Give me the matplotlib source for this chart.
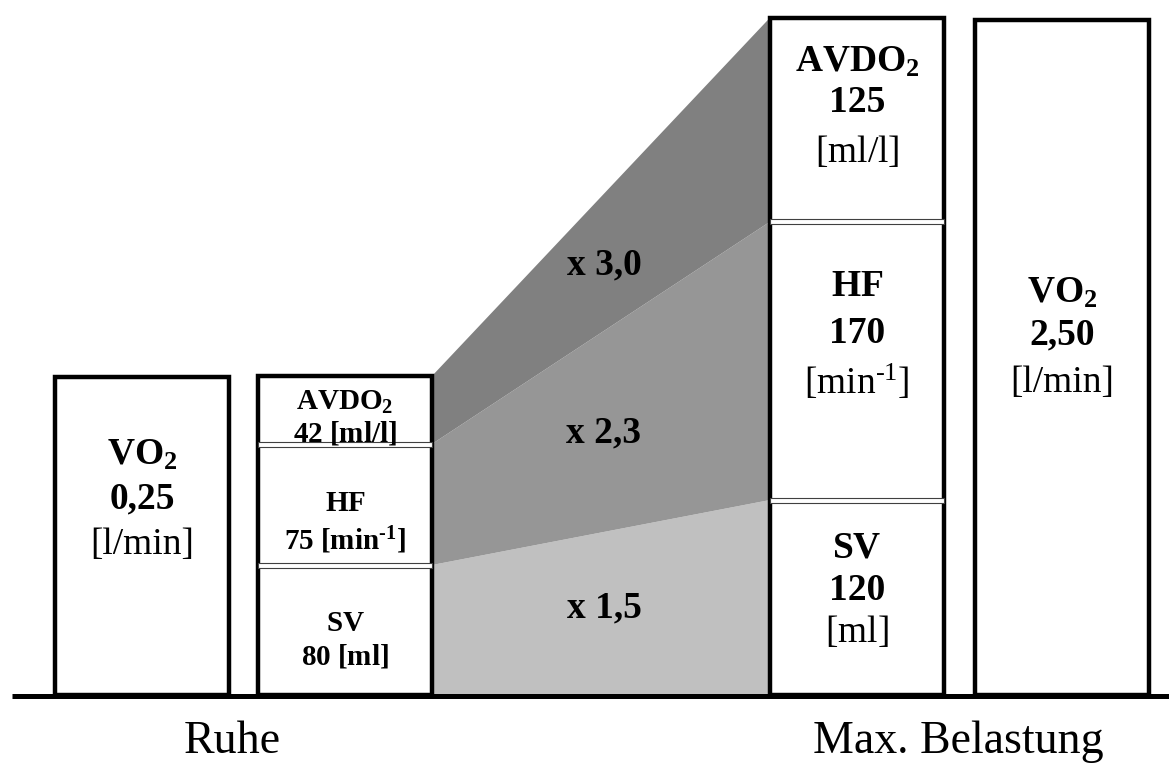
import matplotlib
matplotlib.use("Agg")
import matplotlib.pyplot as plt
from matplotlib.patches import Rectangle, Polygon

plt.rcParams['font.family'] = ['Liberation Serif', 'DejaVu Serif']
plt.rcParams['mathtext.fontset'] = 'custom'
plt.rcParams['mathtext.rm'] = 'Liberation Serif'
plt.rcParams['mathtext.bf'] = 'Liberation Serif:bold'
plt.rcParams['mathtext.it'] = 'Liberation Serif:italic'

# ---- data ----
components = ["SV", "HF", "AVDO2"]
rest_values = ["80 [ml]", "75 [min-1]", "42 [ml/l]"]
max_values = ["120", "170", "125"]
max_units = ["[ml]", "[min-1]", "[ml/l]"]
factors = [1.5, 2.3, 3.0]
factor_labels = ["x 1,5", "x 2,3", "x 3,0"]
vo2_rest = "0,25"
vo2_max = "2,50"
vo2_unit = "[l/min]"
group_labels = ["Ruhe", "Max. Belastung"]

# ---- layout (pixel-like units, y up) ----
W, H = 1169, 765
base = 70
rest_seg = [130, 121, 68]               # drawn heights of rest segments
max_seg = [h * f for h, f in zip(rest_seg, factors)]
x_vo2r, x_rest, x_max, x_vo2m = 55, 258, 770, 975
bw = 174
vo2r_top = 388
vo2m_top = 745
shades = ["#c0c0c0", "#969696", "#808080"]

fig = plt.figure(figsize=(W / 100, H / 100), dpi=100)
ax = fig.add_axes([0, 0, 1, 1])
ax.set_xlim(0, W)
ax.set_ylim(0, H)
ax.axis('off')

lw_box = 3.2


def fmt(s, bold):
    """Convert unit text with '-1' exponent / '2' subscript to mathtext."""
    s = s.replace(" ", r"\ ")
    s = s.replace("min-1", r"min^{\text{-}1}")
    s = s.replace("AVDO2", "AVDO_2").replace("VO2", "VO_2")
    return (r"$\mathbf{" + s + "}$") if bold else (r"$\mathrm{" + s + "}$")


# connecting shaded polygons
r_bounds = [base]
for h in rest_seg:
    r_bounds.append(r_bounds[-1] + h)
m_bounds = [base]
for h in max_seg:
    m_bounds.append(m_bounds[-1] + h)
xr = x_rest + bw
for i in range(3):
    poly = Polygon([(xr, r_bounds[i]), (x_max, m_bounds[i]),
                    (x_max, m_bounds[i + 1]), (xr, r_bounds[i + 1])],
                   closed=True, facecolor=shades[i], edgecolor='none', zorder=1)
    ax.add_patch(poly)

# boxes
for x0, top in [(x_vo2r, vo2r_top), (x_vo2m, vo2m_top),
                (x_rest, r_bounds[-1]), (x_max, m_bounds[-1])]:
    ax.add_patch(Rectangle((x0, base), bw, top - base, facecolor='white',
                           edgecolor='black', lw=lw_box, zorder=2))

# dividers (double lines)
for x0, bounds in [(x_rest, r_bounds), (x_max, m_bounds)]:
    for yb in bounds[1:-1]:
        ax.add_patch(Rectangle((x0, yb - 2.5), bw, 5, facecolor='white',
                               edgecolor='#404040', lw=0.8, zorder=3))

# baseline
ax.plot([12, W], [base - 0.5, base - 0.5], color='black', lw=3.6,
        solid_capstyle='butt', zorder=4)

BIG = 27


# VO2 boxes text
def vo2_text(xc, y1, y2, y3, val):
    ax.text(xc, y1, fmt("VO2", True), ha='center', va='center', fontsize=BIG, zorder=5)
    ax.text(xc, y2, val, ha='center', va='center', fontsize=BIG, fontweight='bold', zorder=5)
    ax.text(xc, y3, vo2_unit, ha='center', va='center', fontsize=BIG, zorder=5)


vo2_text(x_vo2r + bw / 2, H - 455, H - 499, H - 545, vo2_rest)
vo2_text(x_vo2m + bw / 2, H - 293, H - 335, H - 383, vo2_max)

# rest box text
xc = x_rest + bw / 2
rest_pos = [(H - 624, H - 657), (H - 504, H - 540), (H - 402, H - 433)]
for name, val, (y1, y2) in zip(components, rest_values, rest_pos):
    ax.text(xc, y1, fmt(name, True), ha='center', va='center', fontsize=21, zorder=5)
    ax.text(xc, y2, fmt(val, True), ha='center', va='center', fontsize=21, zorder=5)

# max box text
xc = x_max + bw / 2
max_pos = [(H - 548, H - 590, H - 632), (H - 287, H - 333, H - 382), (H - 62, H - 102, H - 152)]
for name, val, unit, (y1, y2, y3) in zip(components, max_values, max_units, max_pos):
    ax.text(xc, y1, fmt(name, True), ha='center', va='center', fontsize=BIG, zorder=5)
    ax.text(xc, y2, val, ha='center', va='center', fontsize=BIG, fontweight='bold', zorder=5)
    ax.text(xc, y3, fmt(unit, False), ha='center', va='center', fontsize=BIG, zorder=5)

# factor labels
for lab, yy in zip(factor_labels, [H - 608, H - 433, H - 265]):
    ax.text(604, yy, lab, ha='center', va='center', fontsize=27, fontweight='bold', zorder=5)

# group labels
ax.text(232, H - 753, group_labels[0], ha='center', va='baseline', fontsize=33, zorder=5)
ax.text(958, H - 753, group_labels[1], ha='center', va='baseline', fontsize=33, zorder=5)

fig.savefig("out.png", dpi=100)
